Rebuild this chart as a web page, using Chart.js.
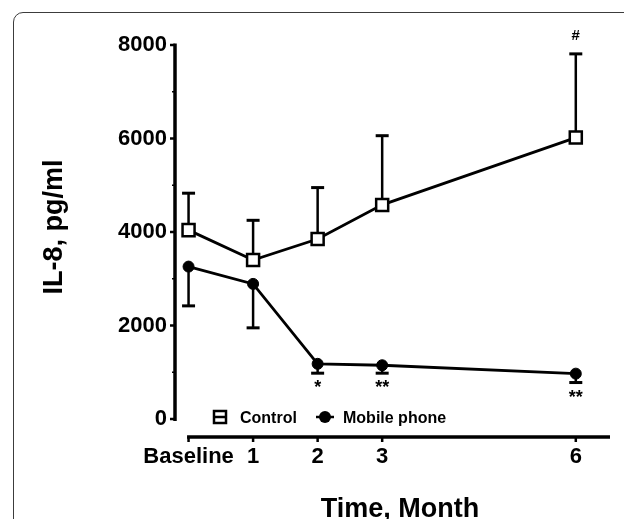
<!DOCTYPE html>
<html>
<head>
<meta charset="utf-8">
<script src="https://cdn.jsdelivr.net/npm/chart.js@4.4.1/dist/chart.umd.min.js"></script>
<style>
    html, body { margin: 0; padding: 0; background: #fff; overflow: hidden; }
    #wrap { position: relative; width: 624px; height: 519px; }
    #frame {
        position: absolute; left: 13px; top: 12px; width: 700px; height: 600px;
        border: 1.5px solid #3c3c3c; border-radius: 10px;
    }
    #il8Chart { position: absolute; left: 0; top: 0; }
</style>
</head>
<body>
<div id="wrap">
    <div id="frame"></div>
    <canvas id="il8Chart" width="624" height="519"></canvas>
</div>
<script>
// Data - START
const MONTHS = [0, 1, 2, 3, 6];
const MONTH_LABELS = ['Baseline', '1', '2', '3', '6'];
const Y_TICKS = [0, 2000, 4000, 6000, 8000];

const controlMean = [4040, 3400, 3850, 4580, 6020];
const controlSd = [790, 850, 1100, 1480, 1790];
const mobileMean = [3260, 2890, 1180, 1150, 970];
const mobileSd = [840, 940, 200, 170, 190];

// significance marks, below mobile phone error bar / above control error bar
const mobileMarks = ['', '', '*', '**', '**'];
const controlMarks = ['', '', '', '', '#'];
// Data - END

const FONT = '"Liberation Sans", Arial, sans-serif';

let toPoints = (xs, ys) => xs.map((x, i) => ({ x: x, y: ys[i] }));

// draws axes lines, error bars, marks, legend and titles
let prismPlugin = {
    id: 'prism',
    beforeDatasetsDraw(chart) {
        let ctx = chart.ctx;
        let xs = chart.scales.x;
        let ys = chart.scales.y;
        let area = chart.chartArea;
        ctx.save();
        ctx.strokeStyle = '#000';
        ctx.lineCap = 'butt';

        // y axis
        ctx.lineWidth = 3.5;
        ctx.beginPath();
        ctx.moveTo(area.left, ys.getPixelForValue(8000) - 1.5);
        ctx.lineTo(area.left, ys.getPixelForValue(0) + 2);
        ctx.stroke();
        ctx.lineWidth = 2.5;
        Y_TICKS.forEach((v) => {
            let py = ys.getPixelForValue(v);
            ctx.beginPath();
            ctx.moveTo(area.left - 5, py);
            ctx.lineTo(area.left, py);
            ctx.stroke();
        });
        ctx.lineWidth = 1.5;
        for (let v = 1000; v < 8000; v += 2000) {
            let py = ys.getPixelForValue(v);
            ctx.beginPath();
            ctx.moveTo(area.left - 3, py);
            ctx.lineTo(area.left, py);
            ctx.stroke();
        }

        // x axis
        ctx.lineWidth = 3.5;
        ctx.beginPath();
        ctx.moveTo(xs.getPixelForValue(0) - 1.5, area.bottom);
        ctx.lineTo(area.right, area.bottom);
        ctx.stroke();
        ctx.lineWidth = 2.5;
        MONTHS.forEach((m) => {
            let px = xs.getPixelForValue(m);
            ctx.beginPath();
            ctx.moveTo(px, area.bottom);
            ctx.lineTo(px, area.bottom + 5);
            ctx.stroke();
        });

        // error bars
        let errorBar = (x, y, sd, dir) => {
            let px = xs.getPixelForValue(x);
            let py0 = ys.getPixelForValue(y);
            let py1 = ys.getPixelForValue(y + dir * sd);
            ctx.lineWidth = 2.5;
            ctx.beginPath();
            ctx.moveTo(px, py0);
            ctx.lineTo(px, py1);
            ctx.stroke();
            ctx.lineWidth = 3;
            ctx.beginPath();
            ctx.moveTo(px - 6.5, py1);
            ctx.lineTo(px + 6.5, py1);
            ctx.stroke();
        };
        MONTHS.forEach((m, i) => {
            errorBar(m, controlMean[i], controlSd[i], 1);
            errorBar(m, mobileMean[i], mobileSd[i], -1);
        });

        // marks
        ctx.fillStyle = '#000';
        ctx.textAlign = 'center';
        ctx.textBaseline = 'middle';
        MONTHS.forEach((m, i) => {
            let px = xs.getPixelForValue(m);
            if (mobileMarks[i]) {
                ctx.font = 'bold 18px ' + FONT;
                ctx.fillText(mobileMarks[i], px, ys.getPixelForValue(mobileMean[i] - mobileSd[i]) + 15);
            }
            if (controlMarks[i]) {
                ctx.font = 'bold 15px ' + FONT;
                ctx.fillText(controlMarks[i], px, ys.getPixelForValue(controlMean[i] + controlSd[i]) - 18);
            }
        });
        ctx.restore();
    },
    afterDraw(chart) {
        let ctx = chart.ctx;
        ctx.save();
        ctx.fillStyle = '#000';
        ctx.strokeStyle = '#000';

        // legend
        let ly = 417;
        ctx.lineWidth = 2.5;
        ctx.fillStyle = '#fff';
        ctx.fillRect(214, ly - 6, 12, 12);
        ctx.strokeRect(214, ly - 6, 12, 12);
        ctx.beginPath();
        ctx.moveTo(214, ly);
        ctx.lineTo(226, ly);
        ctx.stroke();
        ctx.fillStyle = '#000';
        ctx.beginPath();
        ctx.moveTo(316, ly);
        ctx.lineTo(334, ly);
        ctx.stroke();
        ctx.beginPath();
        ctx.arc(325, ly, 6, 0, Math.PI * 2);
        ctx.fill();
        ctx.font = 'bold 16px ' + FONT;
        ctx.textAlign = 'left';
        ctx.textBaseline = 'alphabetic';
        ctx.fillText(chart.data.datasets[0].label, 240, 423);
        ctx.fillText(chart.data.datasets[1].label, 343, 423);

        // axis titles
        ctx.font = 'bold 27px ' + FONT;
        ctx.textAlign = 'center';
        ctx.fillText('Time, Month', 400, 517);
        ctx.translate(62, 227);
        ctx.rotate(-Math.PI / 2);
        ctx.fillText('IL-8, pg/ml', 0, 0);
        ctx.restore();
    }
};

//chart.js - START
let ctx = document.getElementById('il8Chart');
let data = {
    datasets: [{
        label: 'Control',
        data: toPoints(MONTHS, controlMean),
        borderColor: '#000',
        borderWidth: 2.8,
        pointStyle: 'rect',
        pointRadius: 8.5,
        pointBackgroundColor: '#fff',
        pointBorderColor: '#000',
        pointBorderWidth: 2.5,
        tension: 0
    }, {
        label: 'Mobile phone',
        data: toPoints(MONTHS, mobileMean),
        borderColor: '#000',
        borderWidth: 2.8,
        pointStyle: 'circle',
        pointRadius: 5.5,
        pointBackgroundColor: '#000',
        pointBorderColor: '#000',
        pointBorderWidth: 1,
        tension: 0
    }]
};
let config = {
    type: 'line',
    data: data,
    options: {
        responsive: false,
        animation: false,
        clip: false,
        layout: {
            padding: { top: 45, right: 14, left: 0, bottom: 0 }
        },
        plugins: {
            legend: { display: false },
            tooltip: { enabled: false }
        },
        scales: {
            x: {
                type: 'linear',
                min: -0.21,
                max: 6.53,
                afterBuildTicks: (scale) => {
                    scale.ticks = MONTHS.map((m) => ({ value: m }));
                },
                afterFit: (scale) => {
                    scale.height = 82;
                },
                ticks: {
                    autoSkip: false,
                    maxRotation: 0,
                    padding: 7,
                    color: '#000',
                    font: { family: FONT, size: 22, weight: 'bold' },
                    callback: (v) => MONTH_LABELS[MONTHS.indexOf(v)]
                },
                grid: { display: false, drawTicks: false },
                border: { display: false }
            },
            y: {
                min: -385,
                max: 8000,
                afterBuildTicks: (scale) => {
                    scale.ticks = Y_TICKS.map((v) => ({ value: v }));
                },
                afterFit: (scale) => {
                    scale.width = 175;
                },
                ticks: {
                    padding: 8,
                    color: '#000',
                    font: { family: FONT, size: 22, weight: 'bold' },
                    callback: (v) => String(v)
                },
                grid: { display: false, drawTicks: false },
                border: { display: false }
            }
        }
    },
    plugins: [prismPlugin]
};
let il8Chart = new Chart(ctx, config);
//chart.js - END
</script>
</body>
</html>
